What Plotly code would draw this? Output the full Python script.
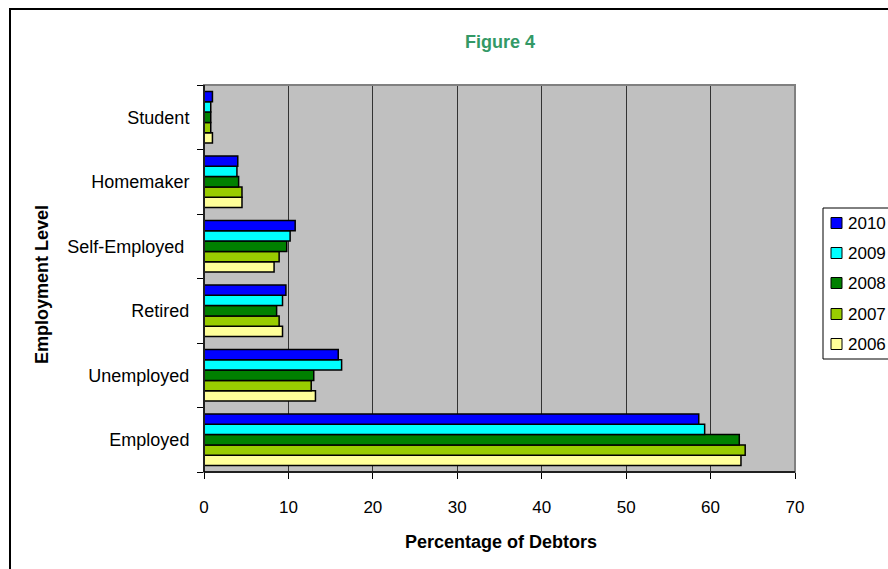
import plotly.graph_objects as go

# ---- data ----
categories = ["Employed", "Unemployed", "Retired", "Self-Employed", "Homemaker", "Student"]
tick_labels = ["Employed", "Unemployed", "Retired", "Self-Employed\u00a0", "Homemaker", "Student"]
years = ["2006", "2007", "2008", "2009", "2010"]
v2006 = [63.6, 13.2, 9.3, 8.3, 4.5, 1.0]
v2007 = [64.1, 12.7, 8.9, 8.9, 4.5, 0.8]
v2008 = [63.4, 13.0, 8.6, 9.8, 4.1, 0.8]
v2009 = [59.3, 16.3, 9.3, 10.2, 3.9, 0.8]
v2010 = [58.6, 15.9, 9.7, 10.8, 4.0, 1.0]
x_ticks = [0, 10, 20, 30, 40, 50, 60, 70]

series = [v2006, v2007, v2008, v2009, v2010]
colors = ["#FFFF99", "#99CC00", "#008000", "#00FFFF", "#0000FF"]

W, H = 888, 569
L, R, T, B = 204, 93, 85, 97
PW, PH = W - L - R, H - T - B

def px(x):
    return (x - L) / PW

def py(y):
    return (H - B - y) / PH

FONT = "Liberation Sans, Arial, sans-serif"

fig = go.Figure()
for name, vals, col in zip(years, series, colors):
    fig.add_trace(go.Bar(
        y=categories, x=vals, name=name, orientation="h",
        marker=dict(color=col, line=dict(color="#000000", width=1.5)),
    ))

shapes = [
    # plot-area frame (grey)
    dict(type="rect", xref="paper", yref="paper", x0=0, x1=1, y0=0, y1=1,
         line=dict(color="#808080", width=2), layer="above"),
    # outer chart border
    dict(type="rect", xref="paper", yref="paper",
         x0=px(10), x1=px(1000), y0=py(700), y1=py(9),
         line=dict(color="#000000", width=2)),
    # left / bottom axis lines in black
    dict(type="line", xref="paper", yref="paper", x0=0, x1=0, y0=0, y1=1,
         line=dict(color="#000000", width=1.5), layer="above"),
    dict(type="line", xref="paper", yref="paper", x0=0, x1=1, y0=0, y1=0,
         line=dict(color="#000000", width=1.5), layer="above"),
    # legend box
    dict(type="rect", xref="paper", yref="paper",
         x0=px(823), x1=px(960), y0=py(359), y1=py(208),
         line=dict(color="#000000", width=1), fillcolor="white"),
]

annotations = [
    dict(text="<b>Figure 4</b>", xref="paper", yref="paper",
         x=px(500), y=py(42), xanchor="center", yanchor="middle", showarrow=False,
         font=dict(size=18, color="#339966")),
    dict(text="<b>Percentage of Debtors</b>", xref="paper", yref="paper",
         x=px(501), y=py(542), xanchor="center", yanchor="middle", showarrow=False,
         font=dict(size=18)),
    dict(text="<b>Employment Level</b>", xref="paper", yref="paper",
         x=px(42), y=py(285), xanchor="center", yanchor="middle", showarrow=False,
         textangle=-90, font=dict(size=18)),
]

# manual legend (newest year on top)
leg_y = [223, 253, 283, 314, 344]
for i, (name, col) in enumerate(zip(years[::-1], colors[::-1])):
    yc = leg_y[i]
    shapes.append(dict(type="rect", xref="paper", yref="paper",
                       x0=px(831), x1=px(842), y0=py(yc + 5.5), y1=py(yc - 5.5),
                       line=dict(color="#000000", width=1), fillcolor=col))
    annotations.append(dict(text=name, xref="paper", yref="paper",
                            x=px(846), y=py(yc), xanchor="left", yanchor="middle",
                            showarrow=False, font=dict(size=17)))

fig.update_layout(
    width=W, height=H,
    margin=dict(l=L, r=R, t=T, b=B, autoexpand=False),
    paper_bgcolor="white", plot_bgcolor="#C0C0C0",
    barmode="group", bargap=0.2, bargroupgap=0,
    font=dict(family=FONT, size=17, color="#000000"),
    showlegend=False,
    xaxis=dict(
        range=[0, 70], tickvals=x_ticks, ticks="outside", ticklen=6,
        tickcolor="#000000", showline=True, linecolor="#000000", linewidth=1,
        showgrid=True, gridcolor="#333333", gridwidth=1, zeroline=False,
        ticklabelstandoff=14, tickfont=dict(size=17),
    ),
    yaxis=dict(
        categoryorder="array", categoryarray=categories,
        tickvals=categories, ticktext=tick_labels,
        ticks="outside", tickson="boundaries", ticklen=6, tickcolor="#000000",
        showline=True, linecolor="#000000", linewidth=1, showgrid=False,
        ticklabelstandoff=10, tickfont=dict(size=18),
    ),
    shapes=shapes,
    annotations=annotations,
)

fig.write_html("out.html",
               config={"displayModeBar": False},
               post_script="document.body.style.margin='0';document.body.style.overflow='hidden';")
